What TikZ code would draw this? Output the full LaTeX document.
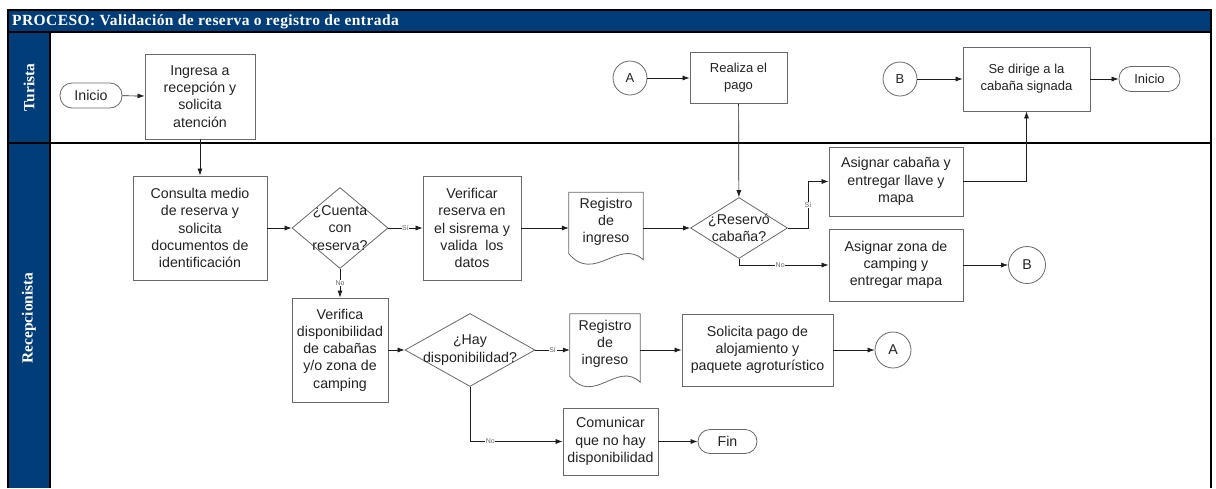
\documentclass[tikz,border=0pt]{standalone}
\usepackage{fontspec}
\setmainfont{Liberation Serif}
\newfontfamily\flowfont{Liberation Sans}
\newfontfamily\headfont[LetterSpace=2.8]{Liberation Serif}
\usetikzlibrary{arrows.meta,shapes.geometric}
\definecolor{laneblue}{RGB}{0,61,121}
\definecolor{shapeline}{RGB}{105,105,105}
\definecolor{inkgrey}{RGB}{35,35,35}
\definecolor{wire}{RGB}{30,30,30}
\begin{document}
\begin{tikzpicture}[x=1pt,y=-1pt,
  flowtext/.style={font=\flowfont\fontsize{14.2}{17.3}\selectfont, text=inkgrey, align=center},
  smalltext/.style={font=\flowfont\fontsize{13}{17}\selectfont, text=inkgrey, align=center},
  sized/.style n args={2}{minimum width=#1, minimum height=#2},
  procbox/.style={draw=shapeline, line width=0.8pt, fill=white, inner sep=0pt, rectangle},
  terminal/.style={draw=shapeline, line width=0.8pt, fill=white, inner sep=0pt, rectangle, rounded corners=12pt},
  decision/.style={draw=shapeline, line width=0.8pt, fill=white, inner sep=0pt, shape=diamond},
  connector/.style={draw=shapeline, line width=0.8pt, fill=white, inner sep=0pt, circle},
  docframe/.style={inner sep=0pt, rectangle},
  docline/.style={draw=shapeline, line width=0.8pt, fill=white},
  flow/.style={draw=wire, line width=0.7pt, -{Latex[length=7pt,width=5pt]}},
  wirelabel/.style={font=\flowfont\fontsize{7}{8}\selectfont, text=black!60, fill=white, inner sep=0.6pt},
  frame/.style={draw=black, line width=2pt},
  lanetitle/.style={font=\bfseries\fontsize{15.5}{17}\selectfont, text=white, rotate=90}
]
\useasboundingbox (0,0) rectangle (1216,488);

% pool header and lane title column
\fill[laneblue] (8,10) rectangle (1211,32);
\fill[laneblue] (8,32) rectangle (50,488);
\draw[frame] (8,488) -- (8,10) -- (1211,10) -- (1211,488);
\draw[frame] (8,32) -- (1211,32);
\draw[frame] (50,32) -- (50,488);
\draw[frame] (8,143) -- (1211,143);
\node[anchor=west, text=white, font=\headfont\bfseries\fontsize{15.5}{17}\selectfont, inner sep=0pt]
  (title) at (12,21.5) {PROCESO: Validación de reserva o registro de entrada};
\node[lanetitle] (laneT) at (29,87.5) {Turista};
\node[lanetitle] (laneR) at (29,318) {Recepcionista};

% Turista lane
\node[terminal, sized={62}{25}, flowtext] (ini1) at (91,95.5) {Inicio};
\node[procbox, sized={110}{85}, flowtext] (ingresa) at (200,96.5) {Ingresa a\\recepción y\\solicita\\atención};
\node[connector, minimum size=34, smalltext] (A1) at (630,78) {A};
\node[procbox, sized={97}{51}, smalltext] (realiza) at (738.5,78) {Realiza el\\pago};
\node[connector, minimum size=34, smalltext] (B1) at (900,79) {B};
\node[procbox, sized={127}{64}, smalltext] (dirige) at (1026.5,79) {Se dirige a la\\cabaña signada};
\node[terminal, sized={61}{25}, smalltext] (ini2) at (1149.5,79) {Inicio};

% Recepcionista lane, first row
\node[procbox, sized={134}{104}, flowtext] (consulta) at (200,228) {Consulta medio\\de reserva y\\solicita\\documentos de\\identificación};
\node[decision, sized={96}{81}] (d1) at (340,228) {};
\node[flowtext] (d1t) at (340,228) {¿Cuenta\\con\\reserva?};
\node[procbox, sized={98}{104}, flowtext] (verificar) at (472,228) {Verificar\\reserva en\\el sisrema y\\valida\ \ los\\datos};
\node[docframe, sized={74}{69}] (doc1) at (606,227) {};
\draw[docline] (doc1.north west) -- (doc1.north east) -- ([yshift=2pt]doc1.south east)
  .. controls +(-24,-22) and +(25,30) .. ([yshift=8pt]doc1.south west) -- cycle;
\node[flowtext] (doc1t) at (606,222) {Registro\\de\\ingreso};
\node[decision, sized={97}{61}] (d2) at (739,228) {};
\node[flowtext] (d2t) at (739,228) {¿Reservó\\cabaña?};
\node[procbox, sized={134}{69}, flowtext] (asigcab) at (896,181.5) {Asignar cabaña y\\entregar llave y\\mapa};
\node[procbox, sized={134}{72}, flowtext] (asigzona) at (896,265) {Asignar zona de\\camping y\\entregar mapa};
\node[connector, minimum size=37, flowtext] (B2) at (1027,265) {B};

% Recepcionista lane, second and third rows
\node[procbox, sized={96}{104}, flowtext] (verifica) at (340,350) {Verifica\\disponibilidad\\de cabañas\\y/o zona de\\camping};
\node[decision, sized={130}{73}] (d3) at (470,350) {};
\node[flowtext] (d3t) at (470,350) {¿Hay\\disponibilidad?};
\node[docframe, sized={70}{70}] (doc2) at (605,349) {};
\draw[docline] (doc2.north west) -- (doc2.north east) -- ([yshift=2pt]doc2.south east)
  .. controls +(-23,-22) and +(24,30) .. ([yshift=8pt]doc2.south west) -- cycle;
\node[flowtext] (doc2t) at (605,344) {Registro\\de\\ingreso};
\node[procbox, sized={151}{72}, flowtext] (solicita) at (757.5,350) {Solicita pago de\\alojamiento y\\paquete agroturístico};
\node[connector, minimum size=36, flowtext] (A2) at (893,350) {A};
\node[procbox, sized={95}{67}, flowtext] (comunicar) at (610.5,441.5) {Comunicar\\que no hay\\disponibilidad};
\node[terminal, sized={59}{24}, flowtext] (fin) at (727.5,441.5) {Fin};

% connectors
\draw[flow] (ini1) -- (ingresa);
\draw[flow] (ingresa) -- (consulta);
\draw[flow] (consulta) -- (d1);
\draw[flow] (d1) -- node[wirelabel] (l1) {Sí} (verificar);
\draw[flow] (d1) -- node[wirelabel] (l2) {No} (verifica);
\draw[flow] (verificar) -- (doc1.west |- verificar.east);
\draw[flow] (doc1.east |- d2.west) -- (d2);
\draw[flow] (realiza) -- (d2);
\draw[flow] (d2.east) -- ++(20,0) |- node[wirelabel, pos=0.25] (l3) {Sí} (asigcab.west);
\draw[flow] (d2.south) |- node[wirelabel, pos=0.73] (l4) {No} (asigzona.west);
\draw[flow] (asigzona) -- (B2);
\draw[flow] (asigcab.east) -| (dirige.south);
\draw[flow] (A1) -- (realiza);
\draw[flow] (B1) -- (dirige);
\draw[flow] (dirige) -- (ini2);
\draw[flow] (verifica) -- (d3);
\draw[flow] (d3) -- node[wirelabel] (l5) {Sí} (doc2.west |- d3.east);
\draw[flow] (doc2.east |- solicita.west) -- (solicita);
\draw[flow] (solicita) -- (A2);
\draw[flow] (d3.south) |- node[wirelabel, pos=0.61] (l6) {No} (comunicar.west);
\draw[flow] (comunicar) -- (fin);
\end{tikzpicture}
\end{document}
